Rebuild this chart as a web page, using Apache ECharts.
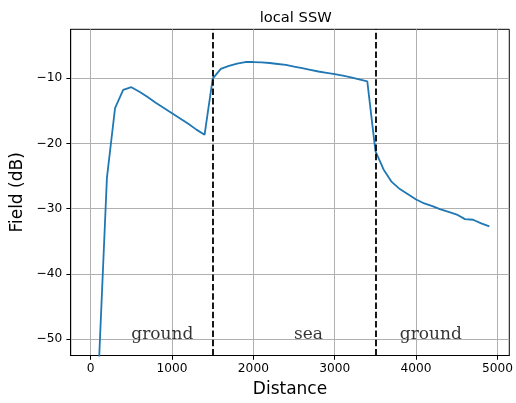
<!DOCTYPE html>
<html>
<head>
<meta charset="utf-8">
<script src="https://cdn.jsdelivr.net/npm/echarts@6/dist/echarts.min.js"></script>
<style>
html,body{margin:0;padding:0;background:#fff;}
#chart{width:516px;height:403px;}
</style>
</head>
<body>
<div id="chart"></div>
<script>
var distance = [0,100,200,300,400,500,600,700,800,900,1000,1100,1200,1300,1400,1500,1600,1700,1800,1900,2000,2100,2200,2300,2400,2500,2600,2700,2800,2900,3000,3100,3200,3300,3400,3500,3600,3700,3800,3900,4000,4100,4200,4300,4400,4500,4600,4700,4800,4900];
var field = [-80,-54.2,-25.3,-14.6,-11.8,-11.4,-12.1,-12.9,-13.8,-14.6,-15.4,-16.2,-17.0,-17.9,-18.7,-10.1,-8.6,-8.15,-7.8,-7.55,-7.55,-7.6,-7.7,-7.85,-8.0,-8.25,-8.5,-8.75,-9.0,-9.2,-9.4,-9.65,-9.9,-10.2,-10.5,-21.2,-24.0,-25.9,-27.0,-27.8,-28.6,-29.2,-29.6,-30.1,-30.5,-30.9,-31.6,-31.7,-32.25,-32.7];
var boundaries = [1500, 3500];
var regionNames = ['ground', 'sea', 'ground'];
var regionX = [500, 2500, 3800];
var regionY = [-50, -50, -50];
var xTicks = [0, 1000, 2000, 3000, 4000, 5000];
var yTicks = [-50, -40, -30, -20, -10];

var lineData = distance.map(function (d, i) { return [d, field[i]]; });
var regionData = regionNames.map(function (n, i) { return { name: n, value: [regionX[i], regionY[i]] }; });
function fmt(v) { return String(v).replace('-', '\u2212'); }

var chart = echarts.init(document.getElementById('chart'), null, { renderer: 'canvas' });
chart.setOption({
  animation: false,
  backgroundColor: '#fff',
  textStyle: { fontFamily: 'DejaVu Sans' },
  title: {
    text: 'local SSW',
    left: 290.7,
    top: 5.5,
    textAlign: 'center',
    textStyle: { fontFamily: 'DejaVu Sans', fontSize: 14.7, fontWeight: 'normal', color: '#000' }
  },
  grid: {
    left: 70.7, right: 5.3, top: 29.3, bottom: 45.7,
    show: true, borderColor: '#000', borderWidth: 1, backgroundColor: 'transparent'
  },
  xAxis: {
    type: 'value', min: -245, max: 5145,
    name: 'Distance', nameLocation: 'middle', nameGap: 25.5,
    nameTextStyle: { fontFamily: 'DejaVu Sans', fontSize: 17, color: '#000' },
    axisLine: { show: true, onZero: false, lineStyle: { color: '#000', width: 1 } },
    axisTick: { show: true, length: 4.3, customValues: xTicks, lineStyle: { color: '#000', width: 1 } },
    axisLabel: { customValues: xTicks, formatter: fmt, margin: 7, fontSize: 12.2, color: '#000', fontFamily: 'DejaVu Sans' },
    splitLine: { show: true, lineStyle: { color: '#b0b0b0', width: 1 } }
  },
  yAxis: {
    type: 'value', min: -52.48, max: -2.54,
    name: 'Field (dB)', nameLocation: 'middle', nameGap: 36,
    nameTextStyle: { fontFamily: 'DejaVu Sans', fontSize: 17, color: '#000' },
    axisLine: { show: true, onZero: false, lineStyle: { color: '#000', width: 1 } },
    axisTick: { show: true, length: 4.3, customValues: yTicks, lineStyle: { color: '#000', width: 1 } },
    axisLabel: { customValues: yTicks, formatter: fmt, margin: 8.5, fontSize: 12.2, color: '#000', fontFamily: 'DejaVu Sans' },
    splitLine: { show: true, lineStyle: { color: '#b0b0b0', width: 1 } }
  },
  series: [
    {
      type: 'line',
      data: lineData,
      symbol: 'none',
      clip: true,
      lineStyle: { color: '#1f77b4', width: 1.8 },
      z: 2
    },
    {
      type: 'line',
      data: [],
      symbol: 'none',
      z: 3,
      markLine: {
        silent: true,
        symbol: ['none', 'none'],
        label: { show: false },
        lineStyle: { color: '#000', type: [6.5, 2.8], width: 1.8 },
        data: boundaries.map(function (b) { return { xAxis: b }; })
      }
    },
    {
      type: 'scatter',
      data: regionData,
      symbolSize: 0,
      z: 4,
      label: {
        show: true,
        formatter: '{b}',
        position: [0, 0],
        align: 'left',
        verticalAlign: 'middle',
        offset: [0, -4.5],
        fontFamily: 'DejaVu Serif',
        fontSize: 17,
        color: '#000'
      }
    }
  ]
});
</script>
</body>
</html>
